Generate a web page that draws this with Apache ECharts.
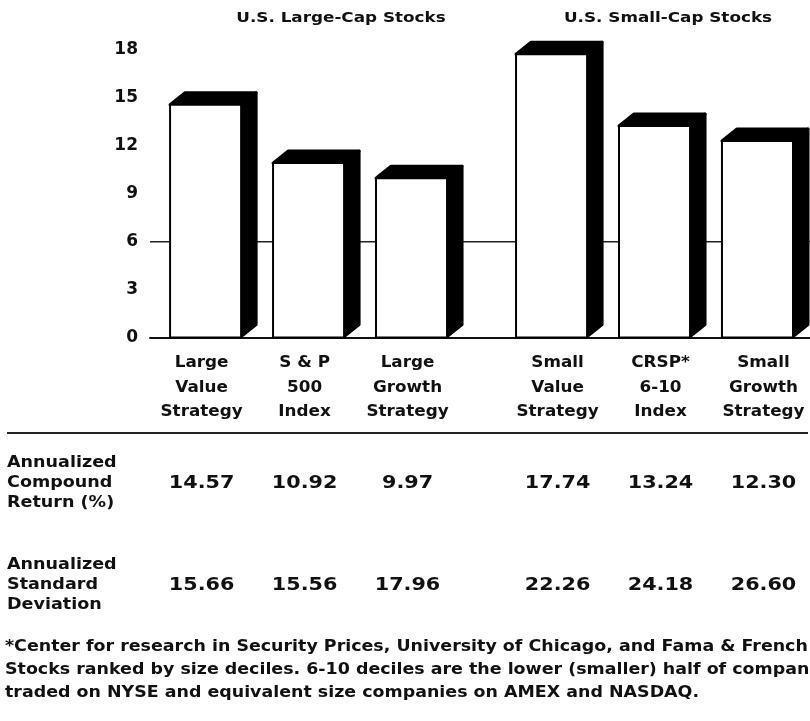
<!DOCTYPE html>
<html>
<head>
<meta charset="utf-8">
<title>Value vs Growth: U.S. Large-Cap and Small-Cap Stocks</title>
<script src="https://cdn.jsdelivr.net/npm/echarts@6/dist/echarts.min.js"></script>
<style>
  html, body { margin: 0; padding: 0; background: #ffffff; }
  #chart { width: 810px; height: 721px; }
</style>
</head>
<body>
<div id="chart"></div>
<script>
// ---- data ----
const categories = [
  'Large\nValue\nStrategy',
  'S & P\n500\nIndex',
  'Large\nGrowth\nStrategy',
  'Small\nValue\nStrategy',
  'CRSP*\n6-10\nIndex',
  'Small\nGrowth\nStrategy'
];
const groupOf = [0, 0, 0, 1, 1, 1];
const groupTitles = ['U.S. Large-Cap Stocks', 'U.S. Small-Cap Stocks'];
const compoundReturn = [14.57, 10.92, 9.97, 17.74, 13.24, 12.30];
const standardDeviation = [15.66, 15.56, 17.96, 22.26, 24.18, 26.60];
const yMin = 0, yMax = 18, yStep = 3;
const referenceLevel = 6;
const rowHeaders = ['Annualized\nCompound\nReturn (%)', 'Annualized\nStandard\nDeviation'];
const footnoteLines = [
  '*Center for research in Security Prices, University of Chicago, and Fama & French',
  'Stocks ranked by size deciles. 6-10 deciles are the lower (smaller) half of companies',
  'traded on NYSE and equivalent size companies on AMEX and NASDAQ.'
];

// ---- layout ----
const FONT = '"DejaVu Sans", "Liberation Sans", Arial, sans-serif';
const INK = '#111111';
const GROUP_GAP = 0.36;      // extra spacing between the two cap groups (in slot units)
const X_MIN = -0.54, X_MAX = 5.87;
const BAR_WIDTH = 0.69;      // slot fraction of the front face
const DEPTH_X = 15, DEPTH_Y = -12;
const TEXT_SHIFT = [-4, 6];  // column text nudge per group
const LABEL_Y = 388, RETURN_Y = 483, STDEV_Y = 585;

const slot = i => i + groupOf[i] * GROUP_GAP;

const barData = compoundReturn.map((v, i) => [slot(i), v, i]);

function textEl(x, y, text, size, scaleX, align, lineHeight) {
  return {
    type: 'text',
    x: x, y: y,
    scaleX: scaleX,
    style: {
      text: text,
      fill: INK,
      fontFamily: FONT,
      fontWeight: 'bold',
      fontSize: size,
      lineHeight: lineHeight || size * 1.2,
      align: align, verticalAlign: 'middle',
      textAlign: align, textVerticalAlign: 'middle'
    }
  };
}

function renderBar(params, api) {
  const x = api.value(0);
  const v = api.value(1);
  const i = api.value(2);
  const top = api.coord([x, v]);
  const base = api.coord([x, 0]);
  const w = api.size([BAR_WIDTH, 0])[0];
  const l = top[0] - w / 2, r = top[0] + w / 2;
  const t = top[1], b = base[1];
  const depth = { fill: '#000', stroke: '#000', lineWidth: 3, lineJoin: 'round' };
  const cx = top[0] + TEXT_SHIFT[groupOf[i]];
  return {
    type: 'group',
    children: [
      { type: 'polygon', shape: { points: [[r, b - 1], [r, t], [r + DEPTH_X, t + DEPTH_Y], [r + DEPTH_X, b + DEPTH_Y - 1]] }, style: depth },
      { type: 'polygon', shape: { points: [[l, t], [l + DEPTH_X, t + DEPTH_Y], [r + DEPTH_X, t + DEPTH_Y], [r, t]] }, style: depth },
      { type: 'rect', shape: { x: l, y: t, width: w, height: b - t }, style: { fill: '#fff', stroke: '#000', lineWidth: 2 } },
      textEl(cx, LABEL_Y, categories[i], 15, 1.12, 'center', 24.5),
      textEl(cx, RETURN_Y, compoundReturn[i].toFixed(2), 18, 1.15, 'center'),
      textEl(cx, STDEV_Y, standardDeviation[i].toFixed(2), 18, 1.15, 'center')
    ]
  };
}

const chart = echarts.init(document.getElementById('chart'), null, { renderer: 'canvas' });

const option = {
  animation: false,
  backgroundColor: '#ffffff',
  grid: { left: 150, right: 0, top: 50, bottom: 383.5 },
  xAxis: {
    type: 'value', min: X_MIN, max: X_MAX,
    axisLine: { show: true, onZero: false, lineStyle: { color: INK, width: 2 } },
    axisTick: { show: false }, axisLabel: { show: false }, splitLine: { show: false }
  },
  yAxis: {
    type: 'value', min: yMin, max: yMax, interval: yStep,
    axisLine: { show: false }, axisTick: { show: false }, splitLine: { show: false },
    axisLabel: { color: INK, fontFamily: FONT, fontWeight: 'bold', fontSize: 17, margin: 12 }
  },
  series: [
    {
      type: 'line', z: 1, silent: true, symbol: 'none',
      data: [[X_MIN, referenceLevel], [X_MAX, referenceLevel]],
      lineStyle: { color: '#222', width: 1.5 }
    },
    {
      type: 'custom', z: 3, clip: false,
      renderItem: renderBar,
      data: barData
    }
  ],
  graphic: [
    textEl(341, 18, groupTitles[0], 14, 1.2, 'center'),
    textEl(668, 18, groupTitles[1], 14, 1.2, 'center'),
    { type: 'line', shape: { x1: 7, y1: 433, x2: 808, y2: 433 }, style: { stroke: '#222', lineWidth: 2 } },
    textEl(7, RETURN_Y, rowHeaders[0], 15, 1.17, 'left', 20),
    textEl(7, STDEV_Y, rowHeaders[1], 15, 1.17, 'left', 20),
    textEl(5, 647, footnoteLines[0], 15, 1.162, 'left'),
    textEl(5, 670, footnoteLines[1], 15, 1.162, 'left'),
    textEl(5, 693, footnoteLines[2], 15, 1.162, 'left')
  ]
};

chart.setOption(option);
</script>
</body>
</html>
